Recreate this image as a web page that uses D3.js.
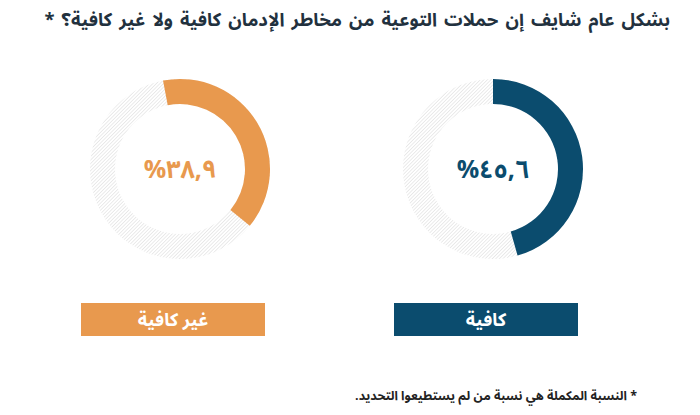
<!DOCTYPE html>
<html>
<head>
<meta charset="utf-8">
<script src="https://cdn.jsdelivr.net/npm/d3@7"></script>
<style>
  body { margin: 0; background: #fff; }
  svg { display: block; font-family: "Noto Sans Arabic", "DejaVu Sans", sans-serif; }
</style>
</head>
<body>
<div id="chart"></div>
<script>
// chart data
var categories = ["كافية", "غير كافية"];
var values = [45.6, 38.9];
var colours = ["#0b4c6e", "#e8994e"];
var titleText = "بشكل عام شايف إن حملات التوعية من مخاطر الإدمان كافية ولا غير كافية؟ *";
var noteText = "* النسبة المكملة هي نسبة من لم يستطيعوا التحديد.";

var W = 700, H = 415;

var svg = d3.select("#chart")
	.append("svg")
	.attr("width", W)
	.attr("height", H);

// hatched pattern for the remainder ring
var defs = svg.append("defs");
defs.append("pattern")
	.attr("id", "hatch")
	.attr("patternUnits", "userSpaceOnUse")
	.attr("width", 2.5)
	.attr("height", 2.5)
	.attr("patternTransform", "rotate(45)")
	.append("line")
	.attr("x1", 0).attr("y1", 0)
	.attr("x2", 0).attr("y2", 2.5)
	.attr("stroke", "#d6d6d6")
	.attr("stroke-width", 1);

// title
svg.append("text")
	.attr("x", 670)
	.attr("y", 26)
	.attr("direction", "rtl")
	.attr("text-anchor", "start")
	.attr("font-size", 18.4)
	.attr("word-spacing", 2.2)
	.attr("font-weight", "bold")
	.attr("fill", "#22313e")
	.text(titleText);

// positions: right to left
var x = d3.scalePoint()
	.domain(categories)
	.range([493, 180]);

var cy = 169;
var outerR = 90, innerR = 65;
var startOffset = [0, -0.19]; // the left ring starts a bit before 12 o'clock

var angle = d3.scaleLinear()
	.domain([0, 100])
	.range([0, 2 * Math.PI]);

var arc = d3.arc()
	.innerRadius(innerR)
	.outerRadius(outerR);

// Arabic-Indic digits with comma decimal
var fmt = d3.format(".1f");
var arDigits = "٠١٢٣٤٥٦٧٨٩";
function toArabic(v) {
	return fmt(v).replace(/\d/g, function(c) { return arDigits[+c]; }).replace(".", ",");
}

var groups = svg.selectAll("g.donut")
	.data(categories)
	.enter()
	.append("g")
	.attr("class", "donut")
	.attr("transform", function(d) { return "translate(" + x(d) + "," + cy + ")"; });

// background ring
groups.append("path")
	.attr("d", arc({ startAngle: 0, endAngle: 2 * Math.PI }))
	.attr("fill", "url(#hatch)");

// value arc
groups.append("path")
	.attr("d", function(d, i) {
		return arc({ startAngle: startOffset[i], endAngle: startOffset[i] + angle(values[i]) });
	})
	.attr("fill", function(d, i) { return colours[i]; });

// centre value
groups.append("text")
	.attr("y", 9)
	.attr("text-anchor", "middle")
	.attr("direction", "ltr")
	.attr("font-size", 25)
	.attr("font-weight", "bold")
	.attr("fill", function(d, i) { return colours[i]; })
	.text(function(d, i) { return "%" + toArabic(values[i]); });

// label boxes
var boxW = 184, boxH = 33, boxY = 303;
var labels = svg.selectAll("g.label")
	.data(categories)
	.enter()
	.append("g")
	.attr("class", "label")
	.attr("transform", function(d) { return "translate(" + (x(d) - 99) + "," + boxY + ")"; });

labels.append("rect")
	.attr("width", boxW)
	.attr("height", boxH)
	.attr("fill", function(d, i) { return colours[i]; });

labels.append("text")
	.attr("x", boxW / 2)
	.attr("y", boxH / 2 + 6)
	.attr("text-anchor", "middle")
	.attr("direction", "rtl")
	.attr("font-size", 18)
	.attr("font-weight", "bold")
	.attr("fill", "#fff")
	.text(function(d) { return d; });

// footnote
svg.append("text")
	.attr("x", 637)
	.attr("y", 400)
	.attr("direction", "rtl")
	.attr("text-anchor", "start")
	.attr("font-size", 12.5)
	.attr("font-weight", "bold")
	.attr("fill", "#222")
	.text(noteText);
</script>
</body>
</html>
